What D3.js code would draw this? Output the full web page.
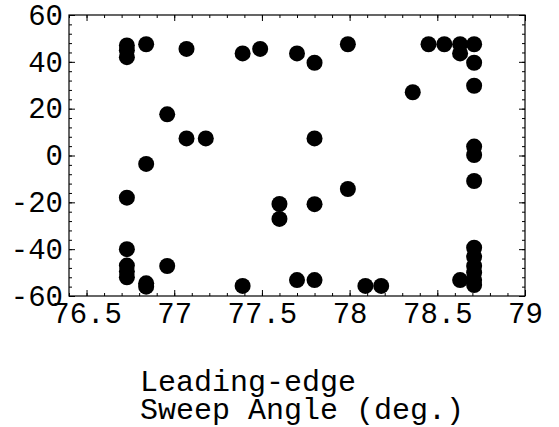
<!DOCTYPE html>
<html>
<head>
<meta charset="utf-8">
<script src="https://cdn.jsdelivr.net/npm/d3@7"></script>
<style>
  html, body { margin: 0; padding: 0; background: #fff; }
  #chart { width: 559px; height: 427px; }
  #chart text { font-family: "Liberation Mono", "Courier New", monospace; fill: #000; }
</style>
</head>
<body>
<div id="chart"></div>
<script>
// leading-edge sweep angle (deg.) and the plotted value of each point
const sweepAngle = [
  76.73, 76.73, 76.73, 76.73, 76.73, 76.73, 76.73, 76.73,
  76.84, 76.84, 76.84, 76.84,
  76.96, 76.96,
  77.07, 77.07,
  77.18,
  77.39, 77.39,
  77.49,
  77.60, 77.60,
  77.70, 77.70,
  77.80, 77.80, 77.80, 77.80,
  77.99, 77.99,
  78.09,
  78.18,
  78.36,
  78.45,
  78.54,
  78.63, 78.63, 78.63,
  78.71, 78.71, 78.71, 78.71, 78.71, 78.71, 78.71, 78.71, 78.71, 78.71, 78.71, 78.71
];
const pointValue = [
  47, 45, 42, -18, -40, -47, -49.5, -52,
  47.5, -3.6, -54.6, -56,
  17.6, -47.2,
  45.5, 7.3,
  7.3,
  43.6, -55.7,
  45.5,
  -20.7, -27.1,
  43.6, -53.2,
  39.6, 7.3, -20.8, -53.2,
  47.5, -14.3,
  -55.7,
  -55.7,
  27,
  47.5,
  47.5,
  47.5, 43.6, -53.2,
  47.5, 39.6, 29.8, 3.8, 0.2, -10.9, -39.4, -43.2, -47.2, -50, -53.2, -55.3
];

const xTickValues = [76.5, 77, 77.5, 78, 78.5, 79];
const yTickValues = [-60, -40, -20, 0, 20, 40, 60];
const xMinorTicks = d3.range(764, 791).map(d => d / 10);
const yMinorTicks = d3.range(-60, 61, 4);
const xTitleLines = ["Leading-edge", "Sweep Angle (deg.)"];

renderChart();

function renderChart() {
  const totalWidth = 559;
  const totalHeight = 427;
  const margin = { top: 15, right: 34, bottom: 131, left: 69 };
  const width = totalWidth - margin.left - margin.right;
  const height = totalHeight - margin.top - margin.bottom;

  const svg = d3.select("#chart")
    .append("svg")
    .attr("width", totalWidth)
    .attr("height", totalHeight)
    .append("g")
    .attr("transform", `translate(${margin.left},${margin.top})`);

  const xScale = d3.scaleLinear()
    .domain([76.4, 79.0])
    .range([0, width]);

  const yScale = d3.scaleLinear()
    .domain([-60, 60])
    .range([height, 0]);

  const data = sweepAngle.map((x, i) => ({ x, y: pointValue[i] }));

  // minor ticks on all four sides, pointing inward
  addAxis(svg, d3.axisBottom(xScale).tickValues(xMinorTicks).tickSize(-3).tickFormat(""), `translate(0,${height})`);
  addAxis(svg, d3.axisTop(xScale).tickValues(xMinorTicks).tickSize(-3).tickFormat(""), null);
  addAxis(svg, d3.axisLeft(yScale).tickValues(yMinorTicks).tickSize(-3).tickFormat(""), null);
  addAxis(svg, d3.axisRight(yScale).tickValues(yMinorTicks).tickSize(-3).tickFormat(""), `translate(${width},0)`);

  // major ticks
  addAxis(svg, d3.axisTop(xScale).tickValues(xTickValues).tickSize(-6).tickFormat(""), null);
  addAxis(svg, d3.axisRight(yScale).tickValues(yTickValues).tickSize(-6).tickFormat(""), `translate(${width},0)`);

  addAxis(svg, d3.axisBottom(xScale).tickValues(xTickValues).tickSize(-6).tickFormat(d3.format("")), `translate(0,${height})`)
    .selectAll("text")
    .attr("y", 27)
    .attr("dy", 0)
    .attr("font-size", "29px");

  addAxis(svg, d3.axisLeft(yScale).tickValues(yTickValues).tickSize(-6).tickPadding(6).tickFormat(d3.format("")), null)
    .selectAll("text")
    .attr("font-size", "29px")
    .text(d => String(d).replace("\u2212", "-"));

  svg.append("rect")
    .attr("x", 0)
    .attr("y", 0)
    .attr("width", width)
    .attr("height", height)
    .attr("fill", "none")
    .attr("stroke", "#000")
    .attr("stroke-width", 1.2);

  svg.selectAll(".dot")
    .data(data)
    .enter()
    .append("circle")
    .attr("class", "dot")
    .attr("cx", d => xScale(d.x))
    .attr("cy", d => yScale(d.y))
    .attr("r", 8)
    .attr("fill", "#000");

  svg.selectAll(".x-title")
    .data(xTitleLines)
    .enter()
    .append("text")
    .attr("class", "x-title")
    .attr("font-size", "30px")
    .attr("x", 140 - margin.left)
    .attr("y", (d, i) => 391 - margin.top + i * 28)
    .text(d => d);
}

function addAxis(svg, axis, transform) {
  const g = svg.append("g").call(axis);
  if (transform) g.attr("transform", transform);
  g.select(".domain").remove();
  g.selectAll(".tick line").attr("stroke", "#000").attr("stroke-width", 1);
  return g;
}
</script>
</body>
</html>
